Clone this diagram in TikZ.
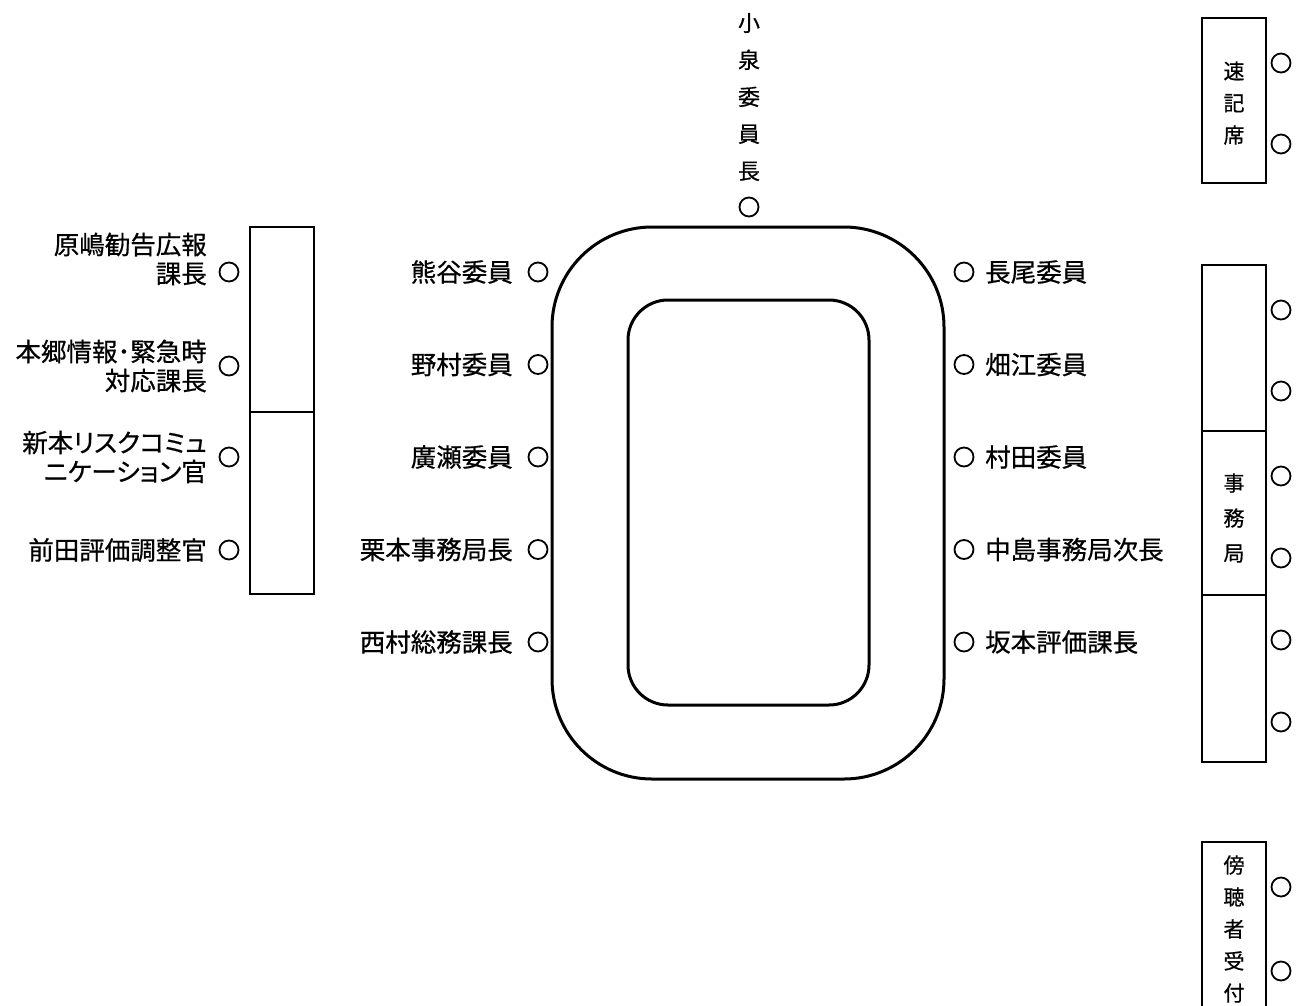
\documentclass[tikz,border=0pt]{standalone}
\usepackage{fontspec}
\newfontfamily\jp[FakeBold=0.6]{Noto Sans CJK JP}
\newfontfamily\jpp[FakeBold=0.6,RawFeature=+palt]{Noto Sans CJK JP}
\begin{document}
\begin{tikzpicture}[x=1pt,y=-1pt,
  seat/.style={circle,draw,line width=1.8pt,minimum size=19pt,inner sep=0pt},
  lbl/.style={font=\jp\fontsize{25.5}{29}\selectfont,inner sep=0pt},
  plbl/.style={font=\jpp\fontsize{25.5}{29}\selectfont,inner sep=0pt},
  vlbl/.style={font=\jp\fontsize{21}{32}\selectfont,align=center,inner sep=0pt},
  box/.style={draw,line width=2.8pt,minimum width=64pt,inner sep=0pt},
  tbl/.style={draw,line width=3pt,inner sep=0pt}]
\useasboundingbox (0,0) rectangle (1301,1005);
\clip (0,0) rectangle (1301,1005);
% table
\node[tbl,rounded corners=100pt,minimum width=392pt,minimum height=552pt] (outer) at (748,503) {};
\node[tbl,rounded corners=40pt,minimum width=241pt,minimum height=405pt] (inner) at (748.5,502.5) {};
% chair
\node[vlbl,font=\jp\fontsize{22}{37}\selectfont] (chairlbl) at (749,97) {小\\泉\\委\\員\\長};
\node[seat] (chair) at (749,207) {};
% left column
\node[seat] (l1) at (538,272) {};
\node[seat] (l2) at (538,364.5) {};
\node[seat] (l3) at (538,457) {};
\node[seat] (l4) at (538,549.5) {};
\node[seat] (l5) at (538,642) {};
\node[lbl,anchor=east] (l1t) at (513,272) {熊谷委員};
\node[lbl,anchor=east] (l2t) at (513,364.5) {野村委員};
\node[lbl,anchor=east] (l3t) at (513,457) {廣瀬委員};
\node[lbl,anchor=east] (l4t) at (513,549.5) {栗本事務局長};
\node[lbl,anchor=east] (l5t) at (513,642) {西村総務課長};
% right column
\node[seat] (r1) at (964,272) {};
\node[seat] (r2) at (964,364.5) {};
\node[seat] (r3) at (964,457) {};
\node[seat] (r4) at (964,549.5) {};
\node[seat] (r5) at (964,642) {};
\node[lbl,anchor=west] (r1t) at (985,272) {長尾委員};
\node[lbl,anchor=west] (r2t) at (985,364.5) {畑江委員};
\node[lbl,anchor=west] (r3t) at (985,457) {村田委員};
\node[lbl,anchor=west] (r4t) at (985,549.5) {中島事務局次長};
\node[lbl,anchor=west] (r5t) at (985,642) {坂本評価課長};
% left boxes
\node[box,minimum height=185pt] (lbox1) at (282,319.5) {};
\node[box,minimum height=182pt] (lbox2) at (282,503) {};
\node[seat] (f1) at (229,272) {};
\node[seat] (f2) at (229,366) {};
\node[seat] (f3) at (229,457) {};
\node[seat] (f4) at (229,550) {};
\node[lbl,anchor=east,align=right] (f1t) at (207,259) {原嶋勧告広報\\課長};
\node[lbl,anchor=east,align=right] (f2t) at (207,366) {本郷情報･緊急時\\対応課長};
\node[plbl,anchor=east,align=right] (f3t) at (207,457) {新本リスクコミュ\\ニケーション官};
\node[lbl,anchor=east] (f4t) at (207,550) {前田評価調整官};
% right boxes
\node[box,minimum height=165pt] (sokki) at (1234,100.5) {};
\node[vlbl] (sokkit) at (1234,103) {速\\記\\席};
\node[seat] (s1) at (1281,63) {};
\node[seat] (s2) at (1281,144) {};
\node[box,minimum height=166pt] (jm1) at (1234,348) {};
\node[box,minimum height=164pt] (jm2) at (1234,513) {};
\node[box,minimum height=167pt] (jm3) at (1234,678.5) {};
\node[vlbl,font=\jp\fontsize{21}{35}\selectfont] (jmt) at (1234,518) {事\\務\\局};
\node[seat] (j1) at (1281,310) {};
\node[seat] (j2) at (1281,391) {};
\node[seat] (j3) at (1281,476) {};
\node[seat] (j4) at (1281,558) {};
\node[seat] (j5) at (1281,640) {};
\node[seat] (j6) at (1281,722) {};
\node[box,minimum height=180pt] (bocho) at (1234,932) {};
\node[vlbl] (bochot) at (1234,929) {傍\\聴\\者\\受\\付};
\node[seat] (b1) at (1281,887) {};
\node[seat] (b2) at (1281,971) {};
\end{tikzpicture}
\end{document}
